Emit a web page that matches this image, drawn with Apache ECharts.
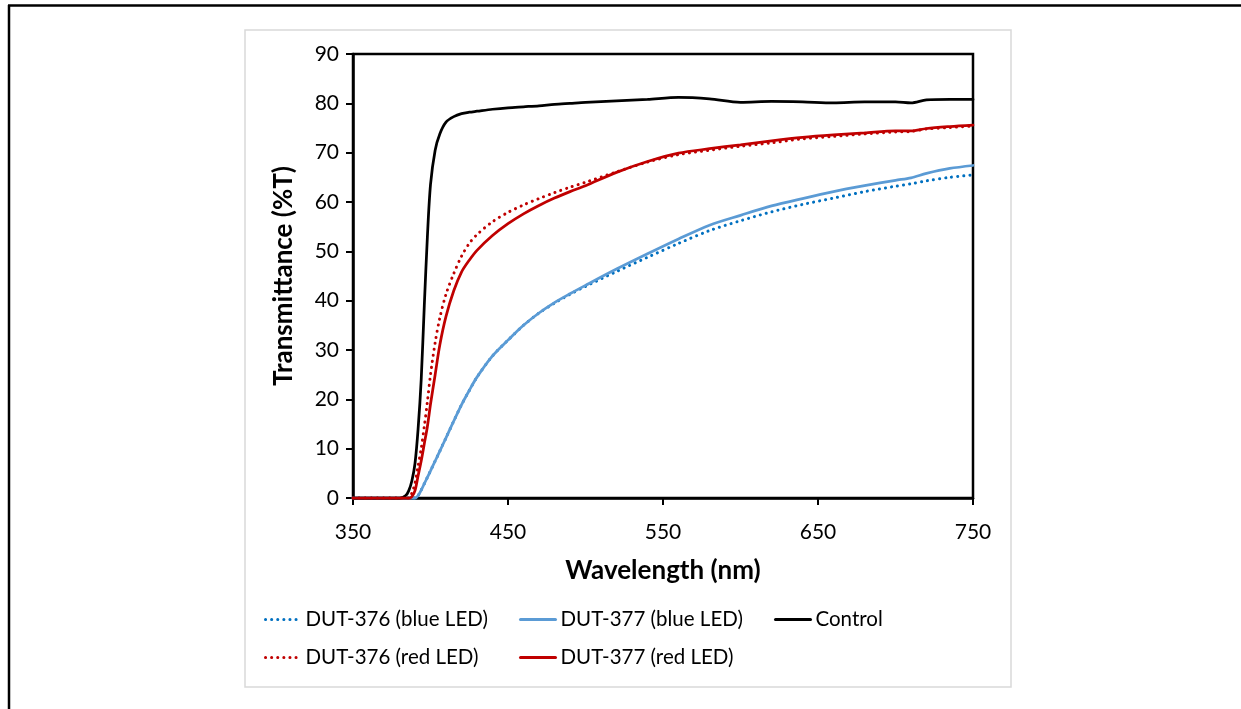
<!DOCTYPE html>
<html>
<head>
<meta charset="utf-8">
<script src="https://cdn.jsdelivr.net/npm/echarts@6/dist/echarts.min.js"></script>
<style>
html,body{margin:0;padding:0;background:#fff;}
#chart{width:1241px;height:709px;}
</style>
</head>
<body>
<div id="chart"></div>
<script>
// Wavelength samples (nm)
const wavelength = [350, 380, 384, 386, 388, 390, 392, 394, 396, 398, 400, 403, 406, 410, 415, 420, 425, 430, 440, 450, 460, 470, 480, 490, 500, 520, 540, 560, 580, 600, 620, 640, 660, 680, 700, 710, 720, 735, 750];

// Transmittance (%T)
const dut376Blue = [0, 0, 0, 0, 0, 0, 0.5, 1.6, 2.9, 4.2, 5.5, 7.5, 9.5, 12.2, 15.6, 18.9, 21.8, 24.5, 28.8, 32, 35, 37.5, 39.5, 41.3, 42.9, 45.9, 48.8, 51.6, 54.2, 56.2, 58, 59.5, 60.8, 62.1, 63.2, 63.7, 64.3, 65, 65.5];
const dut377Blue = [0, 0, 0, 0, 0, 0, 0.5, 1.6, 2.9, 4.2, 5.5, 7.5, 9.5, 12.2, 15.6, 18.9, 21.8, 24.5, 28.8, 32, 35, 37.5, 39.6, 41.4, 43.1, 46.4, 49.5, 52.5, 55.3, 57.3, 59.2, 60.7, 62.1, 63.3, 64.4, 64.9, 65.8, 66.8, 67.4];
const control = [0, 0, 0.5, 1.5, 3.5, 7, 14, 24, 39, 53, 63.5, 70.5, 73.8, 76.2, 77.3, 77.9, 78.2, 78.4, 78.8, 79.1, 79.3, 79.5, 79.8, 80, 80.2, 80.5, 80.8, 81.2, 80.9, 80.2, 80.4, 80.3, 80.1, 80.3, 80.3, 80.1, 80.7, 80.8, 80.8];
const dut376Red = [0, 0, 0, 0, 1, 3, 6.5, 10, 14.5, 19.5, 25, 31.5, 36.5, 41.3, 45.5, 49, 51.6, 53.4, 56, 57.9, 59.4, 60.7, 61.9, 63, 64, 66.1, 68.1, 69.6, 70.5, 71.3, 72, 72.8, 73.3, 73.8, 74.2, 74.3, 74.8, 75.1, 75.4];
const dut377Red = [0, 0, 0, 0, 0.3, 1.5, 4.5, 7.5, 11, 14.5, 19, 25, 31, 36.8, 42, 45.8, 48.2, 50.2, 53.2, 55.6, 57.6, 59.3, 60.8, 62.1, 63.3, 66, 68.2, 69.9, 70.8, 71.6, 72.4, 73.1, 73.6, 74, 74.4, 74.4, 74.9, 75.3, 75.6];

const seriesNames = ['DUT-376 (blue LED)', 'DUT-377 (blue LED)', 'Control', 'DUT-376 (red LED)', 'DUT-377 (red LED)'];
const xTicks = [350, 450, 550, 650, 750];
const yTicks = [0, 10, 20, 30, 40, 50, 60, 70, 80, 90];

const FONT = 'Lato, "Liberation Sans", sans-serif';
const pts = arr => wavelength.map((w, i) => [w, arr[i]]);
const dotted = [0.1, 6];

function mkSeries(name, arr, color, dots) {
  return {
    name: name,
    type: 'line',
    data: pts(arr),
    showSymbol: false,
    symbol: 'none',
    smooth: 0.3,
    clip: false,
    lineStyle: {color: color, width: dots ? 3 : 2.75, type: dots ? dotted : 'solid', cap: 'round'},
    itemStyle: {color: color},
    emphasis: {disabled: true}
  };
}

function mkLegend(name, left, top) {
  return {
    data: [name],
    left: left, top: top,
    itemWidth: 35, itemHeight: 14,
    padding: 0,
    itemStyle: {opacity: 0},
    lineStyle: {width: 3},
    textStyle: {fontFamily: FONT, fontSize: 20.5, color: '#000'},
    selectedMode: false
  };
}

const chart = echarts.init(document.getElementById('chart'), null, {renderer: 'canvas'});
chart.setOption({
  animation: false,
  backgroundColor: '#fff',
  graphic: [
    {type: 'line', shape: {x1: 8, y1: 5.5, x2: 1241, y2: 5.5}, style: {stroke: '#000', lineWidth: 2.5}, silent: true},
    {type: 'line', shape: {x1: 9, y1: 5, x2: 9, y2: 709}, style: {stroke: '#000', lineWidth: 2.5}, silent: true},
    {type: 'rect', shape: {x: 245, y: 30, width: 766, height: 657}, style: {fill: 'none', stroke: '#d9d9d9', lineWidth: 1.5}, silent: true}
  ],
  grid: {left: 353, top: 54, right: 268, bottom: 211, show: true, borderColor: '#000', borderWidth: 2.5, backgroundColor: 'transparent'},
  xAxis: {
    type: 'value', min: 350, max: 750, interval: 100,
    name: 'Wavelength (nm)', nameLocation: 'middle', nameGap: 60,
    nameTextStyle: {fontFamily: FONT, fontSize: 26, fontWeight: 'bold', color: '#000'},
    axisLine: {lineStyle: {color: '#000', width: 2.5}},
    axisTick: {show: true, length: 7, lineStyle: {color: '#000', width: 2}},
    axisLabel: {fontFamily: FONT, fontSize: 21, color: '#000', margin: 24,
      customValues: xTicks},
    splitLine: {show: false}
  },
  yAxis: {
    type: 'value', min: 0, max: 90, interval: 10,
    name: 'Transmittance (%T)', nameLocation: 'middle', nameGap: 56,
    nameTextStyle: {fontFamily: FONT, fontSize: 26, fontWeight: 'bold', color: '#000'},
    axisLine: {lineStyle: {color: '#000', width: 2.5}},
    axisTick: {show: true, length: 7, lineStyle: {color: '#000', width: 2}},
    axisLabel: {fontFamily: FONT, fontSize: 21, color: '#000', margin: 14},
    splitLine: {show: false}
  },
  legend: [
    mkLegend(seriesNames[0], 264, 609),
    mkLegend(seriesNames[1], 519, 609),
    mkLegend(seriesNames[2], 774, 609),
    mkLegend(seriesNames[3], 264, 647),
    mkLegend(seriesNames[4], 519, 647)
  ],
  series: [
    mkSeries(seriesNames[0], dut376Blue, '#0070C0', true),
    mkSeries(seriesNames[1], dut377Blue, '#5B9BD5', false),
    mkSeries(seriesNames[2], control, '#000000', false),
    mkSeries(seriesNames[3], dut376Red, '#C00000', true),
    mkSeries(seriesNames[4], dut377Red, '#C00000', false)
  ]
});
</script>
</body>
</html>
